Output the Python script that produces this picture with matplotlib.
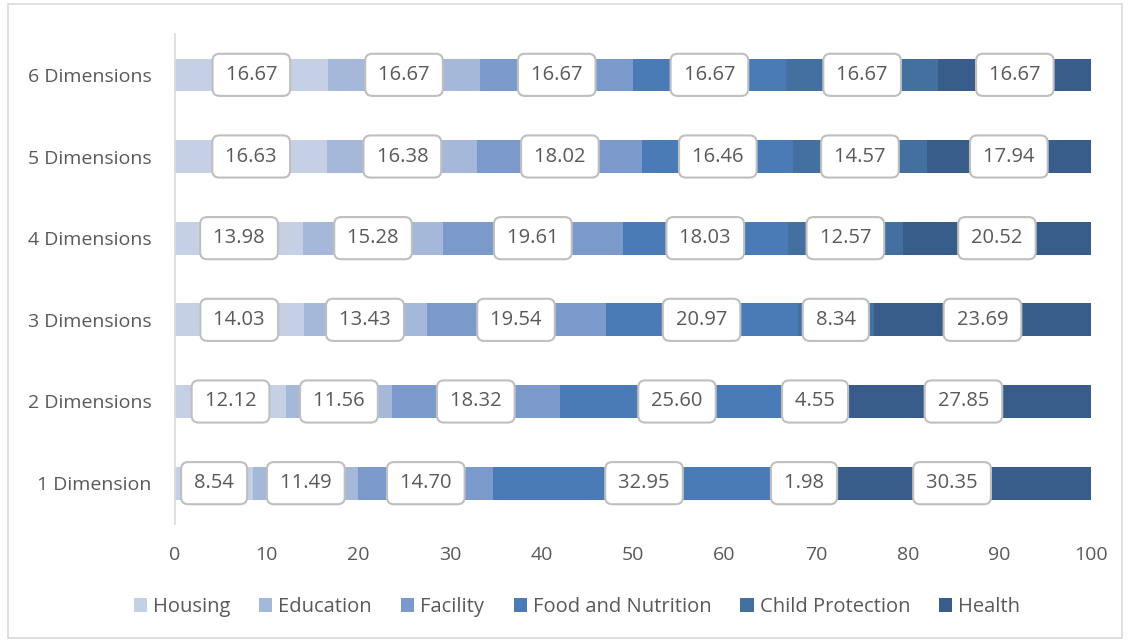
import matplotlib
matplotlib.use("Agg")
import matplotlib.pyplot as plt
from matplotlib.patches import Rectangle
import numpy as np

plt.rcParams['font.family'] = ['Open Sans', 'DejaVu Sans']

categories = ["1 Dimension", "2 Dimensions", "3 Dimensions", "4 Dimensions", "5 Dimensions", "6 Dimensions"]
series = ["Housing", "Education", "Facility", "Food and Nutrition", "Child Protection", "Health"]
housing = [8.54, 12.12, 14.03, 13.98, 16.63, 16.67]
education = [11.49, 11.56, 13.43, 15.28, 16.38, 16.67]
facility = [14.70, 18.32, 19.54, 19.61, 18.02, 16.67]
food = [32.95, 25.60, 20.97, 18.03, 16.46, 16.67]
child = [1.98, 4.55, 8.34, 12.57, 14.57, 16.67]
health = [30.35, 27.85, 23.69, 20.52, 17.94, 16.67]
colors = ["#C5D0E4", "#A6B8D9", "#7B9ACB", "#4A7BB7", "#43709F", "#385D8A"]

data = [housing, education, facility, food, child, health]

fig = plt.figure(figsize=(11.3, 6.4), dpi=100)
ax = fig.add_axes([175/1130, 1 - 524/640, (1091-175)/1130, (524-34)/640])

y = np.arange(len(categories))
left = np.zeros(len(categories))
for name, vals, c in zip(series, data, colors):
    vals = np.array(vals)
    ax.barh(y, vals, left=left, height=0.4, color=c, label=name)
    for yi, (l, v) in enumerate(zip(left, vals)):
        ax.text(l + v / 2, yi, f"\u200a{v:.2f}\u200a", ha="center", va="center",
                fontsize=14.5, color="#595959",
                bbox=dict(boxstyle="round,pad=0.55,rounding_size=0.35",
                          fc="white", ec="#BFBFBF", lw=1.5))
    left += vals

ax.set_xlim(0, 100)
ax.set_ylim(-0.5, len(categories) - 0.5)
ax.set_xticks(np.arange(0, 101, 10))
ax.set_yticks(y)
ax.set_yticklabels(categories)
ax.tick_params(axis="both", length=0, labelsize=14, labelcolor="#595959")
ax.tick_params(axis="x", pad=16)
ax.tick_params(axis="y", pad=17)
for s in ["top", "right", "bottom"]:
    ax.spines[s].set_visible(False)
ax.spines["left"].set_color("#D9D9D9")
ax.spines["left"].set_linewidth(1.2)

leg = fig.legend(loc="center", bbox_to_anchor=(577/1130, 1 - 607/640), ncol=6,
                 frameon=False, fontsize=14.5, handlelength=0.65, handleheight=0.65,
                 handletextpad=0.3, columnspacing=1.45)
for t in leg.get_texts():
    t.set_color("#595959")

fig.patches.append(Rectangle((8/1130, 2/640), 1 - 16/1130, 1 - 6/640, transform=fig.transFigure,
                             fill=False, ec="#D9D9D9", lw=1.2))

fig.savefig("out.png", dpi=100)
